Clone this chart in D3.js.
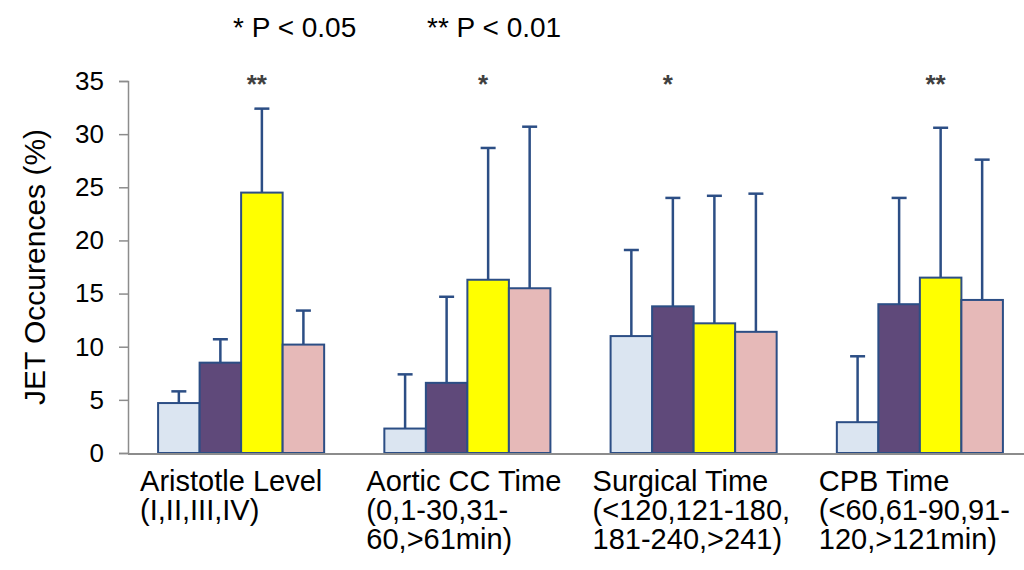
<!DOCTYPE html>
<html>
<head>
<meta charset="utf-8">
<script src="https://cdn.jsdelivr.net/npm/d3@7"></script>
<style>
	body { margin: 0; background: #fff; }
	svg { display: block; font-family: "Liberation Sans", Arial, sans-serif; }
</style>
</head>
<body>
<svg id="chart" width="1024" height="570"></svg>
<script>
// Data
const categories = ["Aristotle", "AorticCC", "Surgical", "CPB"];
const categoryLabels = [
	["Aristotle Level", "(I,II,III,IV)"],
	["Aortic CC Time", "(0,1-30,31-", "60,>61min)"],
	["Surgical Time", "(<120,121-180,", "181-240,>241)"],
	["CPB Time", "(<60,61-90,91-", "120,>121min)"],
];
const series = ["g1", "g2", "g3", "g4"];
const seriesColors = ["#dbe5f1", "#5f497a", "#ffff00", "#e6b9b8"];

// mean JET occurrence (%) per category, one value per series
const aristotleMeans = [4.7, 8.5, 24.5, 10.2];
const aorticMeans = [2.3, 6.6, 16.3, 15.5];
const surgicalMeans = [11.0, 13.8, 12.2, 11.4];
const cpbMeans = [2.9, 14.0, 16.5, 14.4];

// top of the error bars
const aristotleUpper = [5.8, 10.7, 32.4, 13.4];
const aorticUpper = [7.4, 14.7, 28.7, 30.7];
const surgicalUpper = [19.1, 24.0, 24.2, 24.4];
const cpbUpper = [9.1, 24.0, 30.6, 27.6];

const yTicks = [0, 5, 10, 15, 20, 25, 30, 35];

// significance marks: which category, which bar it sits over
const sigMarks = [
	{ cat: "Aristotle", series: "g3", text: "**" },
	{ cat: "AorticCC", series: "g3", text: "*" },
	{ cat: "Surgical", series: "g2", text: "*" },
	{ cat: "CPB", series: "g3", text: "**" },
];
const pLegend = ["* P < 0.05", "** P < 0.01"];

const meansByCat = [aristotleMeans, aorticMeans, surgicalMeans, cpbMeans];
const upperByCat = [aristotleUpper, aorticUpper, surgicalUpper, cpbUpper];
const data = [];
categories.forEach((c, i) => {
	series.forEach((s, j) => {
		data.push({ cat: c, series: s, value: meansByCat[i][j], upper: upperByCat[i][j] });
	});
});

const svg = d3.select("#chart");
const barStroke = "#2c4e85";
const axisColor = "#8c8c8c";

const x0 = d3.scaleBand()
	.domain(categories)
	.range([128, 1033])
	.paddingInner(0.266)
	.paddingOuter(0.133);
const x1 = d3.scaleBand().domain(series).range([0, x0.bandwidth()]);
const color = d3.scaleOrdinal().domain(series).range(seriesColors);
const y = d3.scaleLinear().domain([0, 35]).range([453, 81]);

// Y axis
const yAxis = svg.append("g")
	.attr("transform", "translate(128,0)")
	.call(d3.axisLeft(y).tickValues(yTicks).tickSize(9).tickPadding(15));
yAxis.select(".domain").attr("stroke", axisColor).attr("stroke-width", 1.5);
yAxis.selectAll(".tick line").attr("stroke", axisColor).attr("stroke-width", 1.5);
yAxis.selectAll(".tick text")
	.attr("fill", "#000")
	.style("font-size", "26px")
	.style("font-family", "'Liberation Sans', Arial, sans-serif");

svg.append("text")
	.attr("transform", `translate(45,267) rotate(-90)`)
	.attr("text-anchor", "middle")
	.style("font-size", "30px")
	.text("JET Occurences (%)");

// Error bars (drawn first so the bar top covers the line start)
const capW = 15;
const err = svg.append("g")
	.attr("stroke", barStroke)
	.attr("stroke-width", 2.5)
	.selectAll("g")
	.data(data)
	.join("g")
	.attr("transform", (d) => `translate(${x0(d.cat) + x1(d.series) + x1.bandwidth() / 2},0)`);
err.append("line")
	.attr("y1", (d) => y(d.value))
	.attr("y2", (d) => y(d.upper));
err.append("line")
	.attr("x1", -capW / 2)
	.attr("x2", capW / 2)
	.attr("y1", (d) => y(d.upper))
	.attr("y2", (d) => y(d.upper));

// Bars
svg.append("g")
	.selectAll("rect")
	.data(data)
	.join("rect")
	.attr("x", (d) => x0(d.cat) + x1(d.series))
	.attr("y", (d) => y(d.value))
	.attr("width", x1.bandwidth())
	.attr("height", (d) => y(0) - y(d.value))
	.attr("fill", (d) => color(d.series))
	.attr("stroke", barStroke)
	.attr("stroke-width", 2);

// X baseline
svg.append("line")
	.attr("x1", 128)
	.attr("x2", 1024)
	.attr("y1", y(0) + 1)
	.attr("y2", y(0) + 1)
	.attr("stroke", axisColor)
	.attr("stroke-width", 2);

// Category labels, left aligned a little before each group
categories.forEach((c, i) => {
	svg.append("text")
		.style("font-size", "29px")
		.attr("fill", "#000")
		.selectAll("tspan")
		.data(categoryLabels[i])
		.join("tspan")
		.attr("x", x0(c) - 18)
		.attr("y", (d, k) => 491 + k * 29)
		.text((d) => d);
});

// Significance stars
svg.append("g")
	.selectAll("text")
	.data(sigMarks)
	.join("text")
	.attr("x", (d) => x0(d.cat) + x1(d.series) + x1.bandwidth() / 2 - 5)
	.attr("y", y(35) + 12)
	.attr("text-anchor", "middle")
	.attr("fill", "#404040")
	.style("font-size", "26px")
	.style("font-weight", "bold")
	.text((d) => d.text);

// P-value legend
svg.append("text").attr("x", 233).attr("y", 37).style("font-size", "28px").text(pLegend[0]);
svg.append("text").attr("x", 427).attr("y", 37).style("font-size", "28px").text(pLegend[1]);
</script>
</body>
</html>
